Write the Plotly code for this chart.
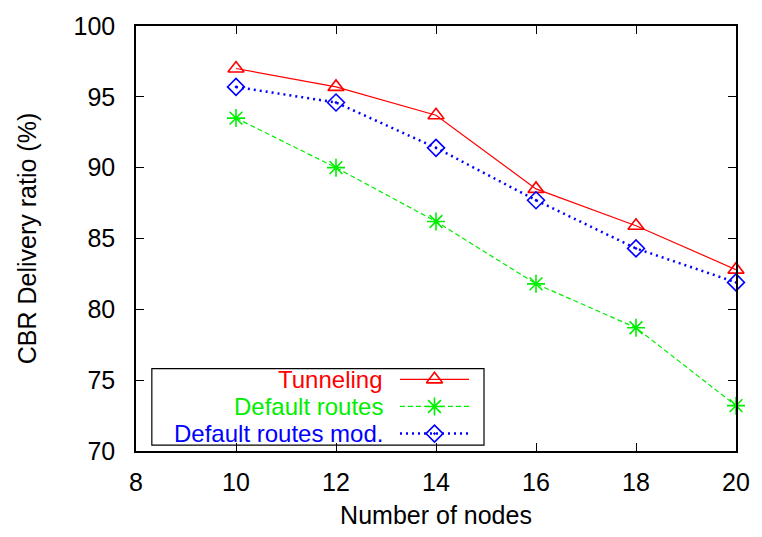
import plotly.graph_objects as go

nodes = [10, 12, 14, 16, 18, 20]
tunneling = [97.0, 95.7, 93.7, 88.5, 85.9, 82.8]
default_routes = [93.5, 90.0, 86.2, 81.8, 78.7, 73.2]
default_routes_mod = [95.7, 94.6, 91.4, 87.7, 84.3, 81.9]

series_names = ["Tunneling", "Default routes", "Default routes mod."]
colors = ["#ff0000", "#00ee00", "#0000ff"]
dashes = ["solid", "5px,3px", "2px,4px"]
widths = [1.2, 1.2, 2.5]
symbols = ["triangle-up-open", "asterisk-open", "diamond-open-dot"]
msizes = [14, 15, 13]

x_ticks = [8, 10, 12, 14, 16, 18, 20]
y_ticks = [70, 75, 80, 85, 90, 95, 100]

FONT = "Liberation Sans, Arial, Helvetica, sans-serif"
FS = 25
LFS = 24

fig = go.Figure()
for name, ys, c, d, w, s, ms in zip(series_names, [tunneling, default_routes, default_routes_mod],
                                     colors, dashes, widths, symbols, msizes):
    fig.add_trace(go.Scatter(
        x=nodes, y=ys, name=name, mode="lines+markers",
        line=dict(color=c, dash=d, width=w),
        marker=dict(symbol=s, size=ms, color=c, line=dict(color=c, width=1.6)),
        showlegend=False, cliponaxis=False,
    ))

# custom gnuplot-style legend (text right, sample on right)
rows_y = [0.1686, 0.1048, 0.0410]
text_right = 0.4135
line_x0, line_x1, mark_x = 0.440, 0.555, 0.4975
for name, c, d, w, s, ms, ry in zip(series_names, colors, dashes, widths, symbols, msizes, rows_y):
    fig.add_annotation(xref="paper", yref="paper", x=text_right, y=ry, text=name,
                       showarrow=False, xanchor="right", yanchor="middle", borderpad=0,
                       font=dict(family=FONT, size=LFS, color=c))
    fig.add_shape(type="line", xref="paper", yref="paper", x0=line_x0, x1=line_x1, y0=ry, y1=ry,
                  line=dict(color=c, dash=d, width=w))
    fig.add_trace(go.Scatter(
        x=[mark_x], y=[ry], xaxis="x2", yaxis="y2", mode="markers", showlegend=False,
        marker=dict(symbol=s, size=ms, color=c, line=dict(color=c, width=1.6)),
        hoverinfo="skip",
    ))
fig.add_shape(type="rect", xref="paper", yref="paper", x0=0.0264, x1=0.580, y0=0.0137, y1=0.1936,
              line=dict(color="black", width=1.2), fillcolor="white", layer="below")

axis_common = dict(showgrid=False, zeroline=False, showline=True, linecolor="black", linewidth=1.5,
                   mirror="ticks", ticks="inside", ticklen=8, tickcolor="black", tickwidth=1,
                   tickfont=dict(family=FONT, size=FS, color="black"))

fig.update_layout(
    width=762, height=537,
    margin=dict(l=136, r=19, t=20, b=78),
    plot_bgcolor="white", paper_bgcolor="white",
    xaxis=dict(range=[8, 20], tickvals=x_ticks, ticktext=[str(v) for v in x_ticks],
               ticklabelstandoff=8,
               title=dict(text="Number of nodes", font=dict(family=FONT, size=FS, color="black"), standoff=12),
               **axis_common),
    yaxis=dict(range=[70, 100], tickvals=y_ticks, ticktext=[str(v) for v in y_ticks],
               ticklabelstandoff=14,
               title=dict(text="CBR Delivery ratio (%)", font=dict(family=FONT, size=FS, color="black"), standoff=30),
               **axis_common),
    xaxis2=dict(range=[0, 1], overlaying="x", visible=False, fixedrange=True),
    yaxis2=dict(range=[0, 1], overlaying="y", visible=False, fixedrange=True),
)

fig.write_html("out.html", config={"displayModeBar": False},
               post_script="document.body.style.margin='0';document.body.style.overflow='hidden';")
